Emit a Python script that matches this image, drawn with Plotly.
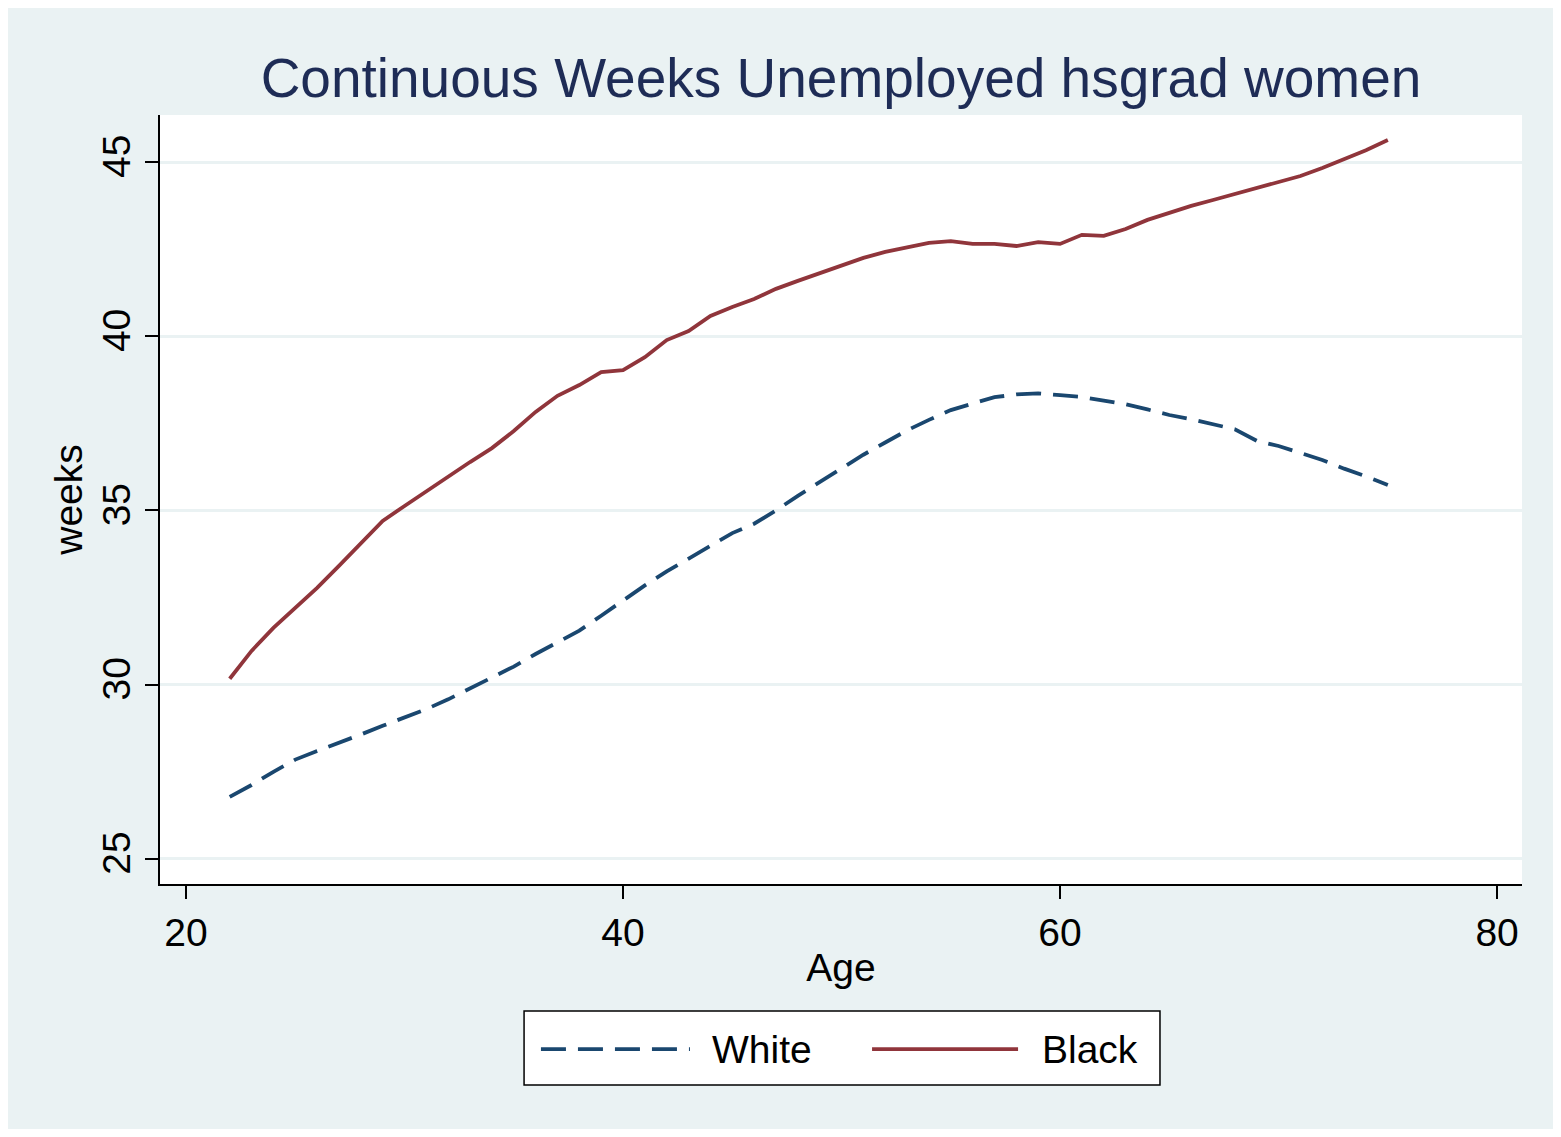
import plotly.graph_objects as go

ages = list(range(22, 76))

white = [26.78, 27.12, 27.50, 27.85, 28.10, 28.33, 28.57, 28.82, 29.05, 29.30,
         29.58, 29.90, 30.20, 30.52, 30.88, 31.20, 31.55, 31.98, 32.43, 32.85,
         33.25, 33.62, 34.01, 34.35, 34.62, 35.00, 35.42, 35.82, 36.20, 36.60,
         36.95, 37.30, 37.60, 37.88, 38.07, 38.25, 38.33, 38.36, 38.31, 38.26,
         38.15, 38.05, 37.90, 37.74, 37.62, 37.48, 37.33, 37.00, 36.85, 36.65,
         36.45, 36.20, 35.98, 35.73]

black = [30.17, 30.97, 31.63, 32.20, 32.78, 33.41, 34.07, 34.70, 35.13, 35.56,
         35.96, 36.39, 36.79, 37.28, 37.83, 38.29, 38.60, 38.97, 39.03, 39.40,
         39.89, 40.15, 40.58, 40.84, 41.07, 41.36, 41.59, 41.81, 42.04, 42.25,
         42.42, 42.56, 42.68, 42.73, 42.65, 42.65, 42.59, 42.70, 42.65, 42.91,
         42.88, 43.08, 43.34, 43.54, 43.74, 43.91, 44.08, 44.25, 44.43, 44.60,
         44.83, 45.09, 45.34, 45.63]

xticks = [20, 40, 60, 80]
yticks = [25, 30, 35, 40, 45]

bg = "#EAF2F3"
navy = "#1A476F"
maroon = "#90353B"
font = "Liberation Sans, Arial, sans-serif"
lw = 3.8

fig = go.Figure()
fig.add_trace(go.Scatter(x=ages, y=white, mode="lines", name="White",
                         line=dict(color=navy, width=lw, dash="25px,12px")))
fig.add_trace(go.Scatter(x=ages, y=black, mode="lines", name="Black",
                         line=dict(color=maroon, width=lw)))

# hand-made legend box (Stata style, long line samples)
fig.add_shape(type="rect", xref="paper", yref="paper",
              x0=0.2673, x1=0.7342, y0=-0.2614, y1=-0.1651,
              fillcolor="white", line=dict(color="black", width=1.5))
fig.add_shape(type="line", xref="paper", yref="paper",
              x0=0.2797, x1=0.3891, y0=-0.2146, y1=-0.2146,
              line=dict(color=navy, width=lw, dash="25px,12px"))
fig.add_shape(type="line", xref="paper", yref="paper",
              x0=0.5228, x1=0.6300, y0=-0.2146, y1=-0.2146,
              line=dict(color=maroon, width=lw))
for name, xc in [("White", 0.442), ("Black", 0.6828)]:
    fig.add_annotation(text=name, xref="paper", yref="paper", x=xc, y=-0.2146,
                       xanchor="center", yanchor="middle", showarrow=False,
                       font=dict(family=font, size=39, color="black"))

# page body has an 8px margin, so the figure is shrunk by that much
fig.update_layout(
    width=1545, height=1121,
    margin=dict(l=152, r=31, t=107, b=245),
    paper_bgcolor=bg,
    plot_bgcolor="white",
    showlegend=False,
    title=dict(text="Continuous Weeks Unemployed hsgrad women",
               x=(152 + 1514) / 2 / 1545, xanchor="center",
               y=1 - 70 / 1121, yanchor="middle",
               font=dict(family=font, size=55, color="#1E2C56")),
    font=dict(family=font, color="black"),
)

fig.update_xaxes(range=[18.81, 81.14], tickvals=xticks, showgrid=False, zeroline=False,
                 showline=True, linecolor="black", linewidth=1.5,
                 ticks="outside", ticklen=13, tickwidth=1.5, tickcolor="black",
                 tickfont=dict(size=39), title=dict(text="Age", font=dict(size=39), standoff=1))
fig.update_yaxes(range=[24.28, 46.35], tickvals=yticks, showgrid=True,
                 gridcolor=bg, gridwidth=3, zeroline=False,
                 showline=True, linecolor="black", linewidth=1.5,
                 ticks="outside", ticklen=13, tickwidth=1.5, tickcolor="black",
                 tickangle=-90, tickfont=dict(size=39),
                 title=dict(text="weeks", font=dict(size=39), standoff=0))

fig.write_html("out.html")
